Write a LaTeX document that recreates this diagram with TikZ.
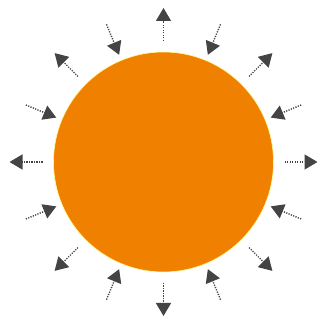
\documentclass[tikz,border=0pt]{standalone}
\usetikzlibrary{arrows.meta,calc}
\definecolor{sunorange}{RGB}{240,128,0}
\definecolor{raygray}{RGB}{68,68,68}
\begin{document}
\begin{tikzpicture}[x=1pt, y=1pt, line join=round, >={Triangle[length=13pt,width=15pt]}]
	\def\rin{116} \def\rout{154} \def\rsun{110}
	\useasboundingbox (0,0) rectangle (322,321);
	\coordinate (sun) at (163.5,159);
	\fill[sunorange] (sun) circle (\rsun);
	\draw[yellow!40, line width=.6pt] (sun) circle (\rsun);
	\tikzset{ray/.style={->, raygray, line width=1.4pt, dash pattern=on 1.2pt off 1.3pt}}
	% outgoing rays
	\foreach \a in {0,45,...,315}
		\draw[ray] ($(sun)+(\a:121)$) -- ($(sun)+(\a:\rout)$);
	% incoming rays
	\foreach \a in {22.5,67.5,...,337.5}
		\draw[ray] ($(sun)+(\a:149)$) -- ($(sun)+(\a:\rin)$);
\end{tikzpicture}
\end{document}
